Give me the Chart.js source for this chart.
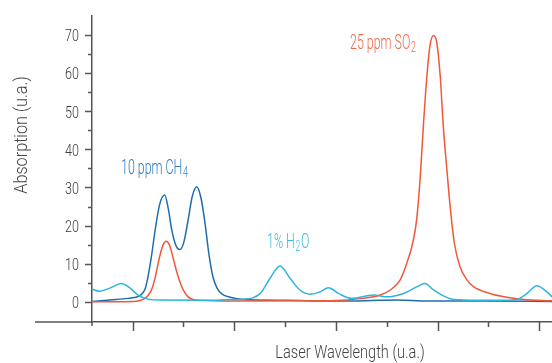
<!DOCTYPE html>
<html>
<head>
<meta charset="utf-8">
<script src="https://cdn.jsdelivr.net/npm/chart.js@4.4.1/dist/chart.umd.min.js"></script>
<style>
  html, body { margin: 0; background: #fff; }
  #wrap { width: 552px; height: 363px; }
</style>
</head>
<body>
<div id="wrap"><canvas id="chart"></canvas></div>
<script>
// spectra (x in arbitrary wavelength units, y in u.a.)
const ch4X = [0.2, 0.55, 0.91, 1.14, 1.24, 1.30, 1.37, 1.45, 1.53, 1.63, 1.70, 1.77, 1.85, 1.93, 2.01, 2.09, 2.17, 2.26, 2.34, 2.42, 2.50, 2.58, 2.66, 2.76, 2.92, 3.18, 4.0, 5.0, 5.6, 6.2, 6.8, 8.0, 9.25]
const ch4Y = [0.1, 0.5, 0.9, 1.6, 3.2, 6.5, 12.0, 19.5, 25.5, 28.0, 24.5, 18.8, 14.8, 13.7, 15.8, 21.4, 27.5, 30.2, 27.5, 21.0, 12.5, 6.5, 3.6, 2.0, 1.2, 0.6, 0.4, 0.2, 0.3, 0.5, 0.2, 0.2, 0.1]

const so2X = [0.2, 1.0, 1.24, 1.36, 1.43, 1.53, 1.60, 1.66, 1.72, 1.79, 1.86, 1.93, 2.0, 2.09, 2.29, 3.0, 4.9, 5.54, 5.87, 6.07, 6.26, 6.39, 6.52, 6.59, 6.66, 6.72, 6.79, 6.85, 6.92, 6.98, 7.05, 7.11, 7.18, 7.25, 7.33, 7.44, 7.58, 7.71, 8.03, 8.36, 8.69, 9.25]
const so2Y = [0.0, 0.1, 0.9, 2.8, 5.7, 11.8, 15.0, 15.9, 15.0, 11.8, 8.2, 5.2, 3.0, 1.3, 0.4, 0.2, 0.3, 0.9, 1.8, 3.1, 5.7, 10.0, 16.0, 21.9, 33.2, 46.3, 59.4, 67.3, 69.9, 68.2, 59.4, 46.3, 35.0, 24.5, 15.3, 9.2, 5.7, 3.9, 2.2, 1.2, 0.6, 0.3]

const h2oX = [0.2, 0.35, 0.55, 0.78, 0.95, 1.10, 1.30, 1.56, 2.5, 2.92, 3.18, 3.51, 3.70, 3.90, 4.10, 4.29, 4.49, 4.69, 4.85, 5.05, 5.30, 5.74, 6.0, 6.33, 6.59, 6.75, 6.92, 7.05, 7.25, 7.5, 8.3, 8.56, 8.76, 8.95, 9.15, 9.25]
const h2oY = [3.3, 2.8, 3.6, 4.8, 3.6, 1.8, 0.7, 0.45, 0.4, 0.6, 0.7, 2.2, 6.1, 9.4, 6.1, 3.1, 2.0, 2.6, 3.7, 2.2, 0.9, 1.8, 1.3, 2.2, 3.9, 4.8, 3.1, 2.0, 0.8, 0.5, 0.4, 0.6, 2.2, 4.2, 2.6, 1.3]

const yMajor = [0, 10, 20, 30, 40, 50, 60, 70]
const yMinor = [5, 15, 25, 35, 45, 55, 65]
const xMajor = [1, 3, 5, 7, 9]
const xMinor = [2, 4, 6, 8]

const AXIS = '#555'
const FONT = "Roboto, sans-serif"
const SQUEEZE = 0.62

function pts(xs, ys) { return xs.map((x, i) => ({ x, y: ys[i] })) }

// no condensed face installed, so squash a normal one horizontally
function squeezed(ctx, main, sub, x, y, color, size) {
  ctx.save()
  ctx.translate(x, y)
  ctx.scale(SQUEEZE, 1)
  ctx.fillStyle = color
  ctx.textAlign = 'left'
  ctx.textBaseline = 'alphabetic'
  ctx.font = `300 ${size}px ${FONT}`
  ctx.fillText(main, 0, 0)
  let w = ctx.measureText(main).width
  if (sub) {
    ctx.font = `300 ${Math.round(size * 0.72)}px ${FONT}`
    ctx.fillText(sub[0], w + 1, 3)
    w += ctx.measureText(sub[0]).width + 1
    if (sub[1]) {
      ctx.font = `300 ${size}px ${FONT}`
      ctx.fillText(sub[1], w + 1, 0)
    }
  }
  ctx.restore()
}

function title(ctx, text, x, y, rot, sx) {
  ctx.save()
  ctx.translate(x, y)
  ctx.rotate(rot)
  ctx.scale(sx, 1)
  ctx.fillStyle = '#444'
  ctx.textAlign = 'center'
  ctx.textBaseline = 'alphabetic'
  ctx.font = `300 18px ${FONT}`
  ctx.fillText(text, 0, 0)
  ctx.restore()
}

const decor = {
  id: 'decor',
  afterDraw(chart) {
    const { ctx, chartArea } = chart
    const xs = chart.scales.x, ys = chart.scales.y
    const left = chartArea.left, bottom = chartArea.bottom
    ctx.save()
    ctx.strokeStyle = AXIS
    ctx.lineWidth = 1.5
    ctx.beginPath()
    xMajor.forEach(v => { const p = Math.round(xs.getPixelForValue(v)) + 0.5; ctx.moveTo(p, bottom); ctx.lineTo(p, bottom + 9) })
    xMinor.forEach(v => { const p = Math.round(xs.getPixelForValue(v)) + 0.5; ctx.moveTo(p, bottom); ctx.lineTo(p, bottom + 5) })
    yMajor.forEach(v => { const p = Math.round(ys.getPixelForValue(v)) + 0.5; ctx.moveTo(left, p); ctx.lineTo(left - 7, p) })
    yMinor.forEach(v => { const p = Math.round(ys.getPixelForValue(v)) + 0.5; ctx.moveTo(left, p); ctx.lineTo(left - 4, p) })
    // axis line runs on past the y axis, y axis pokes below
    ctx.moveTo(35, bottom); ctx.lineTo(left, bottom)
    ctx.moveTo(left, bottom); ctx.lineTo(left, bottom + 4)
    ctx.stroke()

    // y tick labels from the scale's own ticks
    ys.ticks.forEach(t => {
      const p = ys.getPixelForValue(t.value)
      ctx.save()
      ctx.translate(79, p + 2)
      ctx.scale(0.74, 1)
      ctx.fillStyle = '#3a3a3a'
      ctx.textAlign = 'right'
      ctx.textBaseline = 'middle'
      ctx.font = `300 17px ${FONT}`
      ctx.fillText(String(t.value), 0, 0)
      ctx.restore()
    })

    title(ctx, 'Absorption (u.a.)', 27, 135, -Math.PI / 2, 0.9)
    title(ctx, 'Laser Wavelength (u.a.)', 350, 358, 0, 0.81)

    // peak labels
    squeezed(ctx, '10 ppm CH', ['4'], 121, 174, '#2b7bbd', 20)
    squeezed(ctx, '1% H', ['2', 'O'], 267, 248, '#33b9e2', 20)
    squeezed(ctx, '25 ppm SO', ['2'], 350, 49, '#f06646', 20)
    ctx.restore()
  }
}

new Chart(document.getElementById('chart'), {
  type: 'line',
  data: {
    datasets: [
      { label: '1% H2O', data: pts(h2oX, h2oY), borderColor: '#2bb5df' },
      { label: '25 ppm SO2', data: pts(so2X, so2Y), borderColor: '#f0583a' },
      { label: '10 ppm CH4', data: pts(ch4X, ch4Y), borderColor: '#1f6dab' },
    ]
  },
  options: {
    responsive: true, maintainAspectRatio: false,
    animation: false,
    layout: { padding: { top: 16, right: 0, bottom: 0, left: 0 } },
    elements: {
      line: { borderWidth: 1.5, cubicInterpolationMode: 'monotone', fill: false },
      point: { radius: 0 }
    },
    plugins: { legend: { display: false }, tooltip: { enabled: false } },
    scales: {
      x: {
        type: 'linear', min: 0.2, max: 9.25,
        afterBuildTicks: s => { s.ticks = [...xMajor, ...xMinor].sort((a, b) => a - b).map(v => ({ value: v })) },
        afterFit: s => { s.height = 41 },
        grid: { display: false, drawTicks: false },
        border: { display: true, color: AXIS, width: 1.5 },
        ticks: { display: false }
      },
      y: {
        min: -5.3, max: 75,
        afterBuildTicks: s => { s.ticks = yMajor.map(v => ({ value: v })) },
        afterFit: s => { s.width = 92 },
        grid: { display: false, drawTicks: false },
        border: { display: true, color: AXIS, width: 1.5 },
        ticks: { display: false }
      }
    }
  },
  plugins: [decor]
})
</script>
</body>
</html>
